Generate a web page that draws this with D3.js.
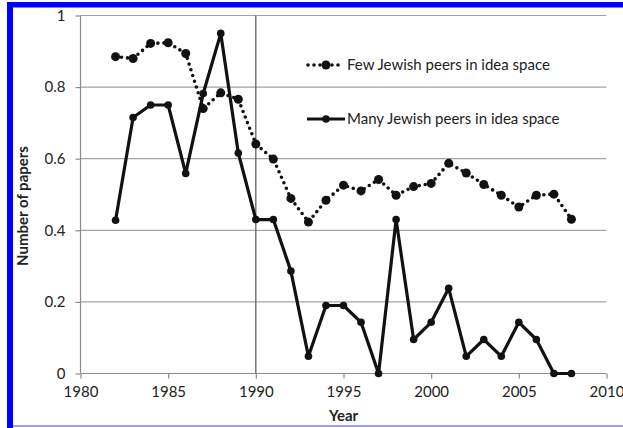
<html>

<head>
    <script src="https://cdn.jsdelivr.net/npm/d3@7"></script>
    <style>
        body { margin: 0; background: #fff; }
        text { font-family: Lato, "Open Sans", sans-serif; fill: #222; }
    </style>
</head>

<body>
    <svg id="chart" width="623" height="428"></svg>
    <script>
        // data
        var years = [1982, 1983, 1984, 1985, 1986, 1987, 1988, 1989, 1990, 1991, 1992, 1993, 1994, 1995,
            1996, 1997, 1998, 1999, 2000, 2001, 2002, 2003, 2004, 2005, 2006, 2007, 2008]
        var fewPeers = [0.885, 0.880, 0.922, 0.924, 0.894, 0.740, 0.784, 0.766, 0.641, 0.599, 0.489, 0.423, 0.484, 0.526,
            0.510, 0.542, 0.498, 0.522, 0.531, 0.587, 0.560, 0.528, 0.498, 0.465, 0.498, 0.501, 0.431]
        var manyPeers = [0.428, 0.715, 0.750, 0.750, 0.559, 0.782, 0.950, 0.616, 0.430, 0.430, 0.286, 0.048, 0.190, 0.190,
            0.143, 0.000, 0.430, 0.095, 0.143, 0.238, 0.048, 0.095, 0.048, 0.143, 0.095, 0.000, 0.000]
        var xTicks = [1980, 1985, 1990, 1995, 2000, 2005, 2010]
        var yTicks = [0, 0.2, 0.4, 0.6, 0.8, 1]
        var seriesNames = ['Few Jewish peers in idea space', 'Many Jewish peers in idea space']

        var svg = d3.select('#chart')

        // blue frame round the figure
        svg.append('rect').attr('x', 7).attr('y', 2).attr('width', 6).attr('height', 426).style('fill', '#0000ff')
        svg.append('rect').attr('x', 7).attr('y', 2).attr('width', 616).attr('height', 5.5).style('fill', '#0000ff')
        svg.append('rect').attr('x', 13).attr('y', 425).attr('width', 610).attr('height', 2).style('fill', '#9d9dff')

        var x = d3.scaleLinear().domain([1980, 2010]).range([80.5, 606.5])
        var y = d3.scaleLinear().domain([0, 1]).range([373.5, 15.5])

        // gridlines
        svg.append('g')
            .selectAll('line.grid')
            .data(yTicks.filter(function(d) { return d > 0 }))
            .enter()
            .append('line')
            .attr('x1', x(1980))
            .attr('x2', x(2010))
            .attr('y1', function(d) { return y(d) })
            .attr('y2', function(d) { return y(d) })
            .style('stroke', '#a3a3a3')
            .style('stroke-width', 1.2)

        // the 1990 line
        svg.append('line')
            .attr('x1', x(1990)).attr('x2', x(1990))
            .attr('y1', y(1)).attr('y2', y(0))
            .style('stroke', '#555')
            .style('stroke-width', 1.2)

        var yAxis = d3.axisLeft(y)
            .tickValues(yTicks)
            .tickSize(5)
            .tickPadding(10)
            .tickFormat(function(d) { return (d === 0 || d === 1) ? d : d.toFixed(1) })
        var gy = svg.append('g')
            .attr('transform', 'translate(' + x(1980) + ',0)')
            .call(yAxis)

        var xAxis = d3.axisBottom(x)
            .tickValues(xTicks)
            .tickSize(5)
            .tickPadding(8)
            .tickFormat(d3.format('d'))
        var gx = svg.append('g')
            .attr('transform', 'translate(0,' + y(0) + ')')
            .call(xAxis)

        svg.selectAll('.domain, .tick line').style('stroke', '#8c8c8c').style('stroke-width', 1.2)
        svg.selectAll('.tick text').style('font-size', '15px').style('fill', '#222')
        gy.select('.domain').attr('d', 'M0,' + y(1) + 'V' + y(0))
        gx.select('.domain').attr('d', 'M' + x(1980) + ',0H' + x(2010))

        // axis titles
        svg.append('text')
            .attr('x', x(1995))
            .attr('y', 421)
            .attr('text-anchor', 'middle')
            .style('font-size', '15px')
            .style('font-weight', 'bold')
            .text('Year')
        svg.append('text')
            .attr('transform', 'translate(28,206) rotate(-90)')
            .attr('text-anchor', 'middle')
            .style('font-size', '15px')
            .style('font-weight', 'bold')
            .text('Number of papers')

        var line = d3.line()
            .x(function(d) { return x(d[0]) })
            .y(function(d) { return y(d[1]) })

        var fewData = years.map(function(yr, i) { return [yr, fewPeers[i]] })
        var manyData = years.map(function(yr, i) { return [yr, manyPeers[i]] })

        // few peers: dotted
        svg.append('path')
            .datum(fewData)
            .attr('d', line)
            .style('fill', 'none')
            .style('stroke', '#111')
            .style('stroke-width', 3.6)
            .style('stroke-linecap', 'round')
            .style('stroke-dasharray', '0 6')
        svg.append('g')
            .selectAll('circle')
            .data(fewData)
            .enter()
            .append('circle')
            .attr('cx', function(d) { return x(d[0]) })
            .attr('cy', function(d) { return y(d[1]) })
            .attr('r', 4.5)
            .style('fill', '#111')

        // many peers: solid
        svg.append('path')
            .datum(manyData)
            .attr('d', line)
            .style('fill', 'none')
            .style('stroke', '#111')
            .style('stroke-width', 3.2)
            .style('stroke-linejoin', 'round')
        svg.append('g')
            .selectAll('circle')
            .data(manyData)
            .enter()
            .append('circle')
            .attr('cx', function(d) { return x(d[0]) })
            .attr('cy', function(d) { return y(d[1]) })
            .attr('r', 3.8)
            .style('fill', '#111')

        // legend
        var legend = svg.append('g')
        legend.append('line')
            .attr('x1', 308).attr('x2', 344).attr('y1', 65).attr('y2', 65)
            .style('stroke', '#111').style('stroke-width', 3.6)
            .style('stroke-linecap', 'round').style('stroke-dasharray', '0 6')
        legend.append('circle').attr('cx', 326).attr('cy', 65).attr('r', 4.5).style('fill', '#111')
        legend.append('line')
            .attr('x1', 307).attr('x2', 345).attr('y1', 119).attr('y2', 119)
            .style('stroke', '#111').style('stroke-width', 3.2)
        legend.append('circle').attr('cx', 326).attr('cy', 119).attr('r', 3.8).style('fill', '#111')
        legend.selectAll('text')
            .data(seriesNames)
            .enter()
            .append('text')
            .attr('x', 347)
            .attr('y', function(d, i) { return i === 0 ? 70 : 124 })
            .style('font-size', '15px')
            .text(function(d) { return d })
    </script>
</body>

</html>
